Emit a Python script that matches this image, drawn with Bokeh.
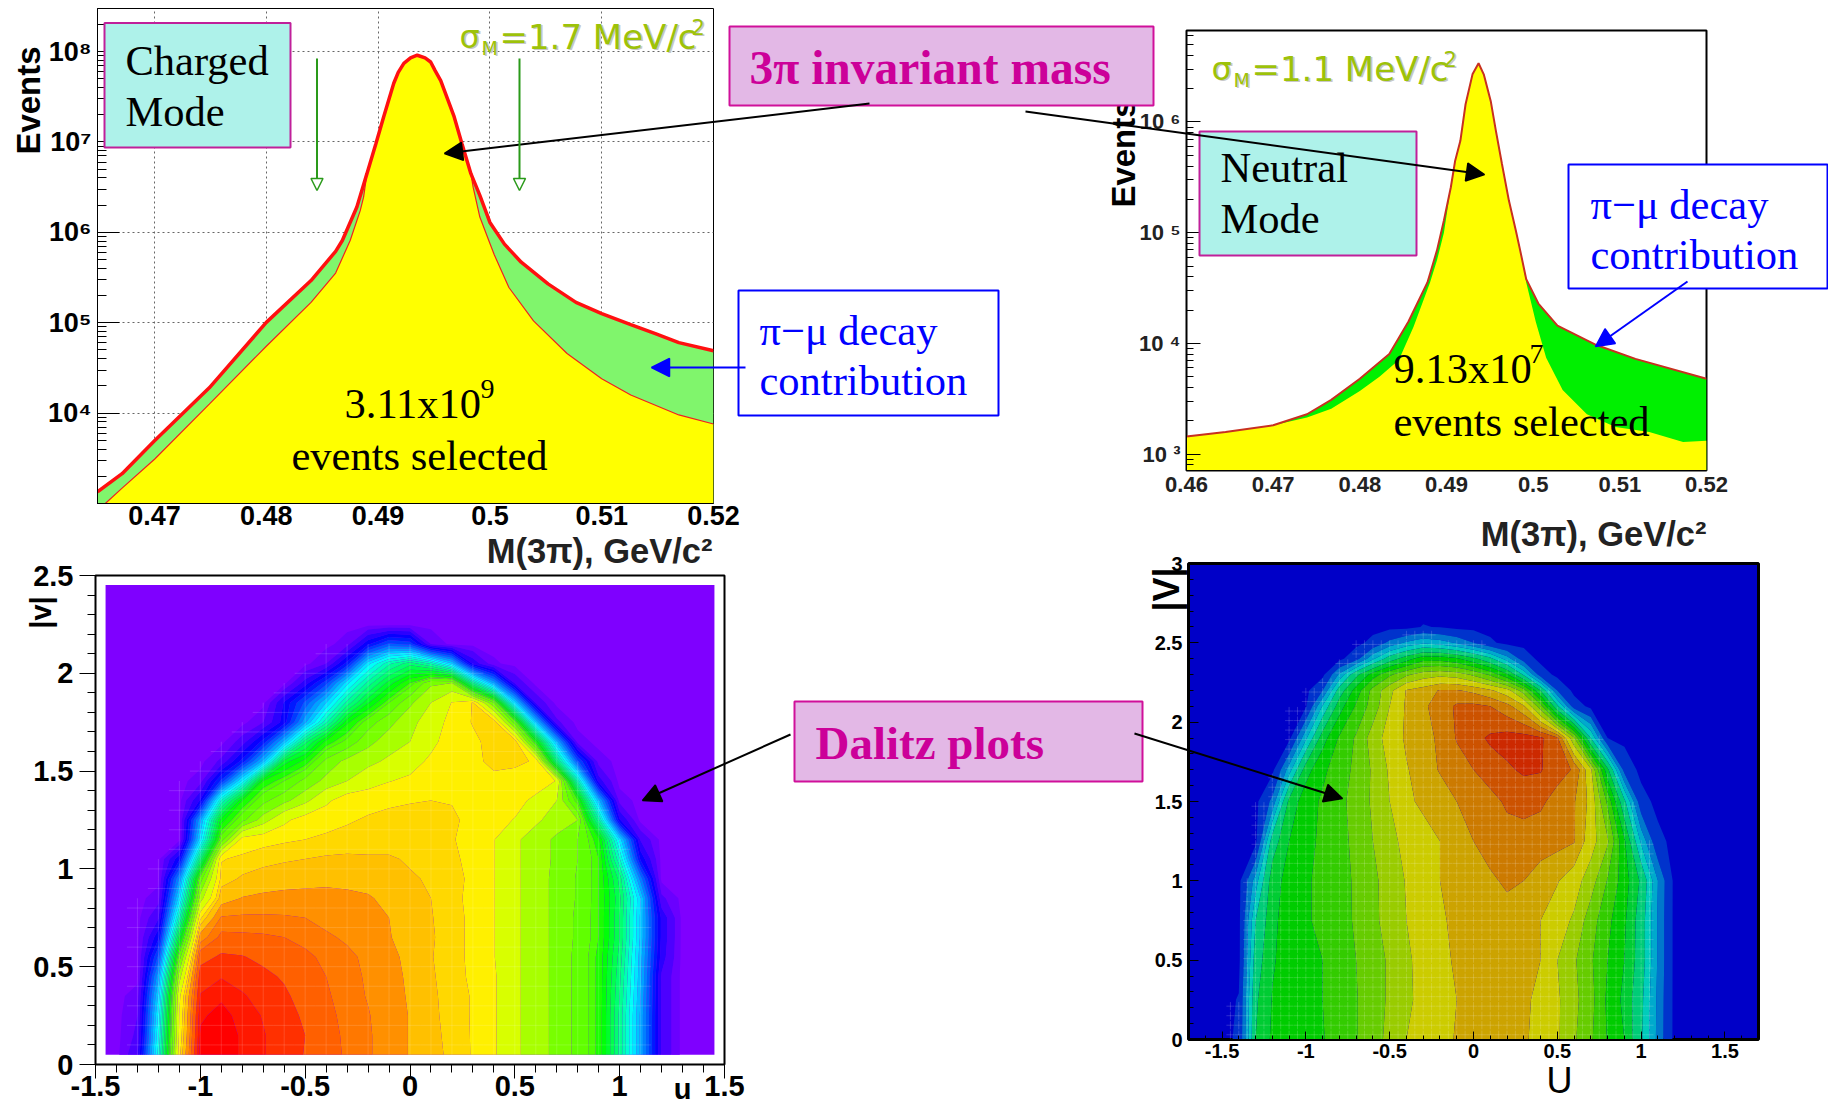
import colorsys
import numpy as np
from bokeh.embed import file_html
from bokeh.resources import INLINE
from bokeh.plotting import figure
from bokeh.models import Range1d, FixedTicker, Arrow, NormalHead, Column, LogTicker
from bokeh.core.properties import value

# ---------- charged mode histogram (log10 of events per point) ----------
charged_total_x = [.4649,.4671,.47,.4749,.48,.484,.4862,.4868,.4881,.4890,.4898,.4905,.4914,.4918,.4923,.4929,.4935,.4942,.4947,.4951,.4956,.4968,.4975,.4983,.4991,.5000,.5013,.5028,.5052,.5077,.51,.5126,.5148,.5169,.52]
charged_total_log = [3.13,3.33,3.695,4.28,5.004,5.467,5.79,5.91,6.28,6.65,6.98,7.28,7.65,7.77,7.87,7.93,7.96,7.93,7.885,7.79,7.68,7.28,6.98,6.65,6.41,6.11,5.87,5.67,5.43,5.225,5.10,4.98,4.88,4.78,4.69]
charged_sel_x = [.4656,.4671,.47,.4749,.48,.484,.4862,.4875,.4884,.4887,.4890,.4898,.4905,.4914,.4918,.4923,.4929,.4935,.4942,.4947,.4951,.4956,.4968,.4975,.4983,.4985,.4991,.4999,.5004,.5017,.5039,.5069,.51,.5126,.5169,.52]
charged_sel_log = [3.0,3.17,3.49,4.10,4.74,5.225,5.55,5.91,6.24,6.39,6.65,6.98,7.28,7.65,7.77,7.87,7.93,7.96,7.93,7.885,7.79,7.68,7.28,6.98,6.65,6.50,6.17,5.91,5.75,5.39,5.02,4.66,4.38,4.20,3.98,3.88]

# ---------- neutral mode histogram ----------
neutral_total_x = [.46,.4645,.47,.4739,.4767,.48,.4834,.4856,.4878,.4889,.4897,.4905,.4910,.4916,.4922,.4930,.4937,.4943,.4951,.4957,.4964,.4972,.4980,.4985,.4992,.5006,.5028,.5073,.5118,.52]
neutral_total_log = [3.158,3.20,3.26,3.36,3.49,3.68,3.905,4.195,4.55,4.84,5.11,5.41,5.65,5.83,6.16,6.43,6.53,6.43,6.19,5.92,5.62,5.29,5.02,4.84,4.58,4.36,4.16,3.985,3.86,3.68]
neutral_sel_x = [.46,.4645,.47,.4739,.4767,.48,.4823,.4845,.4862,.4881,.4889,.4897,.4905,.4910,.4916,.4922,.4930,.4937,.4943,.4951,.4957,.4964,.4972,.4980,.4985,.4992,.5003,.5015,.5034,.5062,.5095,.5134,.5173,.52]
neutral_sel_log = [3.158,3.20,3.26,3.33,3.41,3.57,3.70,3.85,4.15,4.55,4.75,5.0,5.41,5.65,5.83,6.16,6.43,6.53,6.43,6.19,5.92,5.62,5.29,5.02,4.84,4.55,4.195,3.87,3.58,3.36,3.245,3.20,3.11,3.12]

# ---------- ticks ----------
charged_xticks = [.47,.48,.49,.5,.51,.52]
neutral_xticks = [.46,.47,.48,.49,.5,.51,.52]
mass_labels = {.46:"0.46",.47:"0.47",.48:"0.48",.49:"0.49",.5:"0.5",.51:"0.51",.52:"0.52"}
charged_ylabels = {1e3:"",1e4:"10⁴",1e5:"10⁵",1e6:"10⁶",1e7:"10⁷",1e8:"10⁸"}
neutral_ylabels = {1e3:"10 ³",1e4:"10 ⁴",1e5:"10 ⁵",1e6:"10 ⁶"}
half_ticks_c_x = [-1.5,-1,-.5,0,.5,1,1.5]
half_labels = {-1.5:"-1.5",-1:"-1",-.5:"-0.5",0:"0",.5:"0.5",1:"1",1.5:"1.5",2:"2",2.5:"2.5",3:"3"}

# ---------- charged Dalitz: level on the colour scale read per cell ----------
dalitz_c_u = [-1.4,-1.3,-1.2,-1.1,-1.0,-.9,-.8,-.7,-.6,-.5,-.4,-.3,-.2,-.1,0,.1,.2,.3,.4,.5,.6,.7,.8,.9,1.0,1.1,1.2,1.3]
dalitz_c_v = [.05,.15,.25,.35,.45,.55,.65,.75,.85,.95,1.05,1.15,1.25,1.35,1.45,1.55,1.65,1.75,1.85,1.95,2.05,2.15,2.25]
dalitz_c_rows = [
[0,15,100,214,270,271,266,262,258,253,248,244,240,235,230,225,220,216,209,197,190,182,172,158,118,70,15,0],
[0,10,95,210,268,271,266,262,258,253.5,248,243.5,240,235,230,224.5,219.5,216,209,197,190,182,172,158,118,70,15,0],
[0,8,90,208,266,269,265,261,257,252,247,243,239.5,235,230,224,219,216,209,197,190,182,172,158,118,70,15,0],
[0,5,82,205,262,266,262.5,258,255,250,246,242,238.5,234,229.5,223.5,219,216,209,197,190,182,172,158,120,72,15,0],
[0,0,70,190,258,261,258,255.5,252.5,248.5,245,241.5,238,233.5,229,223,218.5,215.5,209,197,190,182,172,158,122,74,15,0],
[0,0,50,170,250,255,254,251.5,249,246.5,243.5,240.5,237.5,233,228,222.5,218,215.5,208,197,190,182,172,158,125,75,20,0],
[0,0,30,140,235,247,246.5,246,245,243,240,238,235,231,227,223,218,215.5,208,197,190,182,173,160,128,78,22,0],
[0,0,15,110,215,240,240.5,240.5,240,239,237,235,233,230.5,227,222.5,218,215.5,208,197,190,182,173,160,128,78,22,0],
[0,0,5,85,190,226,231,232.5,233,233,233,232.5,231.5,228,225,222,218,215,208,197,190,182,174,160,130,80,10,0],
[0,0,0,65,170,219,223,225.5,227,228,228.5,228,227,225,223,221,218,215.5,208,197,190,182,174,160,125,60,0,0],
[0,0,0,30,125,216,218,219.5,221,222,223,223.5,223,223,221,220,217.5,215,208,197,190,183,175,160,105,30,0,0],
[0,0,0,0,85,170,212,214.5,215.5,216.5,217.5,218,218.5,218.5,218.5,218.5,217,214,208,197,190,183,175,155,85,15,0,0],
[0,0,0,0,70,148,172,190,205,213,214.5,216,217,218,219,219.5,218,214,211,207,197,190,185,115,25,0,0,0],
[0,0,0,0,25,105,152,172,182,192,205,214,215,215.5,216,216.5,216,214,213,211,205,195,160,75,5,0,0,0],
[0,0,0,0,5,42,90,153,165,178,188,195,202,207,210,213,214,215,215,214.5,213,207,110,20,0,0,0,0],
[0,0,0,0,0,10,35,75,140,155,178,188,192,197,202,210,214,215,218,217.5,216,125,50,5,0,0,0,0],
[0,0,0,0,0,0,12,35,75,125,155,168,182,190,195,204,214,215,219,222,155,75,5,0,0,0,0,0],
[0,0,0,0,0,0,0,8,28,70,110,150,170,182,192,200,212,217,222,170,80,10,0,0,0,0,0,0],
[0,0,0,0,0,0,0,0,25,50,80,115,143,165,183,195,208,217,175,85,15,0,0,0,0,0,0,0],
[0,0,0,0,0,0,0,0,0,20,45,85,115,140,160,183,185,120,70,15,0,0,0,0,0,0,0,0],
[0,0,0,0,0,0,0,0,0,0,8,35,85,110,125,110,80,22,3,0,0,0,0,0,0,0,0,0],
[0,0,0,0,0,0,0,0,0,0,0,5,30,50,45,8,0,0,0,0,0,0,0,0,0,0,0,0],
[0]*28,
]
dalitz_c_edges = [2,8,16,24,32,40,48,56,64,72,80,88,96,104,112,120,128,136,144,152,160,165,175,185,195,207.5,216.5,222,230.5,239,245,253.5,261.5,267,300]
dalitz_c_top = ["#4cff00","#60ff00","#78ff00","#a8ff00","#d8ff00","#fff000","#ffd800","#ffc000","#ff9000","#ff7800","#ff6000","#ff3000","#ff1800","#ff0000"]

# ---------- neutral Dalitz ----------
dalitz_n_u = [-1.5,-1.4,-1.3,-1.2,-1.1,-1.0,-.9,-.8,-.7,-.6,-.5,-.4,-.3,-.2,-.1,0,.1,.2,.3,.4,.5,.6,.7,.8,.9,1.0,1.1,1.2,1.3]
dalitz_n_v = [0,.25,.5,.75,1,1.25,1.5,1.7,1.9,2.1,2.2,2.3,2.4,2.5,2.6,2.7]
dalitz_n_rows = [
[0,8,95,115,122,126,127,135,142,152,162,172,177,182,187,190,192,192,188,181,174,160,145,127,112,78,37,0,0],
[0,6,92,113,122,127,128,134,142,152,160,170,175,180,186,189,191,192,189,182,174,162,148,125,108,80,38,0,0],
[0,0,85,110,120,127,128,135,143,152,160,170,176,182,188,191,192,192,189,186,172,160,145,128,112,85,40,0,0],
[0,0,75,108,120,127,130,137,145,155,163,172,178,184,189,192,193,193,191,186,178,170,150,132,115,85,40,0,0],
[0,0,50,105,118,127,130,138,145,155,164,173,180,186,190,194,196,200,198,192,187,178,165,142,120,92,42,0,0],
[0,0,0,85,112,125,130,138,147,158,168,176,182,186,190,198,203,205,205,204,202,199,178,160,115,55,10,0,0],
[0,0,0,30,100,122,130,138,150,160,172,184,188,192,198,202,206,212,214,212,206,199,182,140,80,12,0,0,0],
[0,0,0,0,50,105,125,135,147,160,174,185,192,199,204,210,216,220,224,223,214,209,175,100,18,0,0,0,0],
[0,0,0,0,0,55,105,130,145,165,178,188,194,200,211,218,224,227,227,224,212,160,75,5,0,0,0,0,0],
[0,0,0,0,0,3,60,105,130,150,172,188,196,203,212,213,210,202,188,150,80,15,0,0,0,0,0,0,0],
[0,0,0,0,0,0,25,85,120,148,168,187,192,199,199,195,188,178,150,95,25,0,0,0,0,0,0,0,0],
[0,0,0,0,0,0,0,45,90,120,140,155,165,168,165,155,140,115,72,15,0,0,0,0,0,0,0,0,0],
[0,0,0,0,0,0,0,0,18,55,85,105,122,122,115,100,80,50,15,0,0,0,0,0,0,0,0,0,0],
[0,0,0,0,0,0,0,0,0,10,30,45,55,50,40,25,8,0,0,0,0,0,0,0,0,0,0,0,0],
[0,0,0,0,0,0,0,0,0,0,0,0,6,4,0,0,0,0,0,0,0,0,0,0,0,0,0,0,0],
[0]*29,
]
dalitz_n_edges = [5,25,42,58,75,95,112,128,143,158,172,186,198,210,222,300]
dalitz_n_hues = [225,205,190,175,155,135,120,105,90,75,60,48,36,24,12]

SANS, SERIF = "Liberation Sans", "Liberation Serif"


def hue_hex(h, v=1.0):
    r, g, b = colorsys.hsv_to_rgb((h % 360) / 360.0, 1.0, v)
    return "#%02x%02x%02x" % (round(r * 255), round(g * 255), round(b * 255))


def place(fig, frame_left, frame_top, bl, bt):
    return Column(children=[fig], styles={"position": "absolute", "left": f"{frame_left - bl}px", "top": f"{frame_top - bt}px"})


def panel(fw, fh, bl, bt, br, bb, **kw):
    p = figure(frame_width=fw, frame_height=fh, min_border_left=bl, min_border_top=bt, min_border_right=br,
               min_border_bottom=bb, toolbar_location=None, output_backend="svg", background_fill_color="white",
               border_fill_alpha=0, **kw)
    p.outline_line_color = "black"
    return p


def style_axis(ax, size, color="black", tick_in=0, tick_out=0, minor_in=0, minor_out=0, standoff=4):
    ax.major_label_text_font = SANS
    ax.major_label_text_font_style = "bold"
    ax.major_label_text_font_size = size
    ax.major_label_text_color = color
    ax.major_tick_in, ax.major_tick_out = tick_in, tick_out
    ax.minor_tick_in, ax.minor_tick_out = minor_in, minor_out
    ax.major_label_standoff = standoff
    ax.axis_line_color = "black"


def mesh(p, us, vs, rows, step_u, step_v, half_u, half_v, thresh, alpha):
    """Thin white cell marks of the original's contour mesh, only where the read grid is filled."""
    z = np.array(rows, dtype=float)
    x0, x1, y0, y1 = [], [], [], []
    for u in np.arange(us[0], us[-1], step_u):
        for v in np.arange(vs[0] + step_v / 2, vs[-1], step_v):
            i = min(np.searchsorted(us, u), len(us) - 1)
            j = min(np.searchsorted(vs, v), len(vs) - 1)
            if z[j, i] > thresh and z[max(j - 1, 0), i] > thresh:
                x0 += [u - half_u, u]
                x1 += [u + half_u, u]
                y0 += [v, v - half_v]
                y1 += [v, v + half_v]
    p.segment(x0, y0, x1, y1, line_color="white", line_alpha=alpha, line_width=1)


# ---------- charged histogram ----------
pA = panel(616, 495, 70, 0, 45, 30, x_range=Range1d(.4649, .52), y_range=Range1d(1e3, 3e8), y_axis_type="log")
pA.outline_line_width = 1
pA.xaxis.ticker = FixedTicker(ticks=charged_xticks)
pA.xaxis.major_label_overrides = mass_labels
pA.yaxis.ticker = LogTicker(num_minor_ticks=10)
pA.yaxis.major_label_overrides = charged_ylabels
style_axis(pA.xaxis[0], "27px", standoff=2)
style_axis(pA.yaxis[0], "27px", tick_in=22, minor_in=9, standoff=6)
for g in (pA.xgrid[0], pA.ygrid[0]):
    g.grid_line_color = "#666666"
    g.grid_line_dash = "2 3"
    g.grid_line_width = 1
    g.minor_grid_line_color = None
floor_a = 1e3
tot = (10.0 ** np.array(charged_total_log)).tolist()
sel = (10.0 ** np.array(charged_sel_log)).tolist()
pA.patch(charged_total_x + [charged_total_x[-1], charged_total_x[0]], tot + [floor_a, floor_a], fill_color="#80f56c", line_color=None)
pA.patch(charged_sel_x + [charged_sel_x[-1], charged_sel_x[0]], sel + [floor_a, floor_a], fill_color="#ffff00", line_color=None)
pA.line(charged_sel_x, sel, line_color="#f02020", line_width=1.2)
pA.line(charged_total_x, tot, line_color="#ff1010", line_width=3.5)
wA = place(pA, 97, 8, 70, 0)

# ---------- neutral histogram ----------
pB = panel(520, 440, 70, 4, 45, 30, x_range=Range1d(.46, .52), y_range=Range1d(711, 6.7e6), y_axis_type="log")
pB.outline_line_width = 2
pB.grid.visible = False
pB.xaxis.ticker = FixedTicker(ticks=neutral_xticks)
pB.xaxis.major_label_overrides = mass_labels
pB.yaxis.ticker = LogTicker(num_minor_ticks=10)
pB.yaxis.major_label_overrides = neutral_ylabels
style_axis(pB.xaxis[0], "22px", color="#222222", standoff=6)
style_axis(pB.yaxis[0], "22px", color="#222222", tick_in=14, minor_in=7, standoff=6)
floor_b = 711
tot = (10.0 ** np.array(neutral_total_log)).tolist()
sel = (10.0 ** np.array(neutral_sel_log)).tolist()
pB.patch(neutral_total_x + [neutral_total_x[-1], neutral_total_x[0]], tot + [floor_b, floor_b], fill_color="#00f000", line_color=None)
pB.patch(neutral_sel_x + [neutral_sel_x[-1], neutral_sel_x[0]], sel + [floor_b, floor_b], fill_color="#ffff00", line_color=None)
pB.line(neutral_total_x, tot, line_color="#c83020", line_width=2)
wB = place(pB, 1186, 30, 70, 4)

# ---------- charged Dalitz ----------
pC = panel(629, 489, 75, 24, 45, 42, x_range=Range1d(-1.5, 1.5), y_range=Range1d(0, 2.5))
pC.outline_line_width = 2
pC.grid.visible = False
pC.xaxis.ticker = FixedTicker(ticks=half_ticks_c_x, minor_ticks=[round(-1.5 + .1 * i, 1) for i in range(31)])
pC.yaxis.ticker = FixedTicker(ticks=[0, .5, 1, 1.5, 2, 2.5], minor_ticks=[round(.1 * i, 1) for i in range(26)])
pC.xaxis.major_label_overrides = half_labels
pC.yaxis.major_label_overrides = half_labels
style_axis(pC.xaxis[0], "29px", tick_out=14, minor_out=8, standoff=-3)
style_axis(pC.yaxis[0], "29px", tick_out=16, minor_out=8, standoff=6)
pC.quad(left=[-1.452], right=[1.452], bottom=[.05], top=[2.452], fill_color="#7f00ff", line_color=None)
colors_c = [hue_hex(270 - (a + b) / 2) for a, b in zip(dalitz_c_edges[:20], dalitz_c_edges[1:21])] + dalitz_c_top
assert len(colors_c) == len(dalitz_c_edges) - 1
assert all(len(r) == 28 for r in dalitz_c_rows) and len(dalitz_c_rows) == 23
pC.contour(dalitz_c_u, dalitz_c_v, np.array(dalitz_c_rows, dtype=float), levels=dalitz_c_edges, fill_color=colors_c, line_color=None)
mesh(pC, dalitz_c_u, dalitz_c_v, dalitz_c_rows, .1, .1, .05, .05, 0, .14)
wC = place(pC, 95, 575, 75, 24)

# ---------- neutral Dalitz ----------
pD = panel(570, 476, 60, 24, 40, 30, x_range=Range1d(-1.7, 1.7), y_range=Range1d(0, 3))
pD.outline_line_width = 3
pD.grid.visible = False
pD.background_fill_color = "#0000c8"
pD.xaxis.ticker = FixedTicker(ticks=half_ticks_c_x, minor_ticks=[round(-1.7 + .1 * i, 1) for i in range(35)])
pD.yaxis.ticker = FixedTicker(ticks=[0, .5, 1, 1.5, 2, 2.5, 3], minor_ticks=[round(.1 * i, 1) for i in range(31)])
pD.xaxis.major_label_overrides = half_labels
pD.yaxis.major_label_overrides = half_labels
style_axis(pD.xaxis[0], "20px", tick_in=8, minor_in=4, standoff=4)
style_axis(pD.yaxis[0], "20px", tick_in=10, minor_in=5, standoff=6)
assert all(len(r) == 29 for r in dalitz_n_rows) and len(dalitz_n_rows) == 16
pD.contour(dalitz_n_u, dalitz_n_v, np.array(dalitz_n_rows, dtype=float), levels=dalitz_n_edges,
           fill_color=[hue_hex(h, .8) for h in dalitz_n_hues], line_color=None)
mesh(pD, dalitz_n_u, dalitz_n_v, dalitz_n_rows, .05, .06, .024, .026, 1, .17)
wD = place(pD, 1188, 563, 60, 24)

# ---------- rule along the top of the page ----------
rule = figure(width=1724, height=6, x_range=Range1d(96, 1820), y_range=Range1d(6, 0), x_axis_type=None, y_axis_type=None,
              toolbar_location=None, output_backend="svg", min_border=0, background_fill_alpha=0, border_fill_alpha=0)
rule.outline_line_color = None
rule.grid.visible = False
rule.line([96, 1820], [3, 3], line_color="#0a9a14", line_width=2.5)
wR = Column(children=[rule], styles={"position": "absolute", "left": "96px", "top": "1px"})

# ---------- overlay in page pixels: boxes, notes, arrows ----------
ov = figure(width=1820, height=1098, x_range=Range1d(8, 1828), y_range=Range1d(1106, 8), x_axis_type=None, y_axis_type=None,
            toolbar_location=None, output_backend="svg", min_border=0, background_fill_alpha=0, border_fill_alpha=0)
ov.outline_line_color = None
ov.grid.visible = False


def txt(x, y, s, font=SERIF, size="40px", color="black", style="normal", align="left", angle=0):
    if font == SERIF:
        y -= 2
    ov.text([x], [y], text=[s], text_font=value(font), text_font_size=size, text_color=color, text_font_style=style,
            text_align=align, text_baseline="middle", angle=angle)


def box(l, r, t, b, fill, line):
    ov.quad(left=[l], right=[r], top=[t], bottom=[b], fill_color=fill, line_color=line, line_width=2)


def arrow(x0, y0, x1, y1, color="black", w=2, size=18, fill=None):
    ov.add_layout(Arrow(x_start=x0, y_start=y0, x_end=x1, y_end=y1, line_color=color, line_width=w,
                        end=NormalHead(size=size, fill_color=fill or color, line_color=color, line_width=1.5)))


# axis titles
txt(28, 100, "Events", SANS, "33px", style="bold", align="center", angle=np.pi / 2)
txt(712, 550, "M(3π), GeV/c²", SANS, "34.5px", "#222222", "bold", "right")
txt(1123, 153, "Events", SANS, "33px", style="bold", align="center", angle=np.pi / 2)
txt(1706, 533, "M(3π), GeV/c²", SANS, "34.5px", "#222222", "bold", "right")
txt(682, 1088, "u", SANS, "29px", style="bold", align="center")
txt(40, 612, "|v|", SANS, "29px", style="bold", align="center", angle=np.pi / 2)
txt(1559, 1080, "U", SANS, "36px", align="center")
txt(1166, 589, "|V|", SANS, "36px", style="bold", align="center", angle=np.pi / 2)
# boxes
box(104, 290, 22.5, 147, "#aef2ea", "#c0209a")
txt(125, 62, "Charged", size="42.5px")
txt(125, 113, "Mode", size="42.5px")
box(1199, 1416, 131, 255, "#aef2ea", "#c0209a")
txt(1220, 169, "Neutral", size="42.5px")
txt(1220, 220, "Mode", size="42.5px")
box(729, 1153, 26, 105, "#e3b8e6", "#d0109a")
txt(749, 69, "3π invariant mass", size="47.5px", color="#cc0099", style="bold")
box(794, 1142, 701, 781, "#e3b8e6", "#d0109a")
txt(815, 744, "Dalitz plots", size="47px", color="#cc0099", style="bold")
box(738, 998, 290, 415, "white", "#0000ff")
txt(759, 332, "π−μ decay", size="42.5px", color="#0000ff")
txt(759, 382, "contribution", size="42.5px", color="#0000ff")
box(1568, 1827, 164, 288, "white", "#0000ff")
txt(1590, 206, "π−μ decay", size="42.5px", color="#0000ff")
txt(1590, 256, "contribution", size="42.5px", color="#0000ff")
# sigma notes
for x0, s, y in ((459, "=1.7 MeV/c", 36), (1211, "=1.1 MeV/c", 68)):
    for dx, col in ((1.5, "#c8c8c8"), (0, "#9dc209")):
        txt(x0 + dx, y + dx, "σ", "DejaVu Sans", "32px", col)
        txt(x0 + 22 + dx, y + 11 + dx, "M", "DejaVu Sans", "19px", col)
        txt(x0 + 40 + dx, y + dx, s, "DejaVu Sans", "34px", col)
        txt(x0 + 232 + dx, y - 10 + dx, "2", "DejaVu Sans", "21px", col)
# event counts
txt(344, 405, "3.11x10", size="42.5px")
txt(480, 390, "9", size="28px")
txt(291, 457, "events selected", size="42.5px")
txt(1393, 370, "9.13x10", size="42.5px")
txt(1529, 355, "7", size="28px")
txt(1393, 423, "events selected", size="42.5px")
# arrows
arrow(869, 103, 444, 153)
arrow(1025, 111, 1484, 174)
arrow(790, 734, 642, 800)
arrow(1134, 733, 1342, 798)
arrow(745, 367, 651, 367, "#0000ff", 2)
arrow(1687, 281, 1595, 346, "#0000ff", 2)
arrow(316.5, 58, 316.5, 190, "#2a9a1a", 2, 12, "white")
arrow(519, 58, 519, 190, "#2a9a1a", 2, 12, "white")
wO = Column(children=[ov], styles={"position": "absolute", "left": "8px", "top": "8px"})

page = Column(children=[wA, wB, wC, wD, wR, wO], width=1820, height=1098)
open("out.html", "w").write(file_html(page, INLINE))
